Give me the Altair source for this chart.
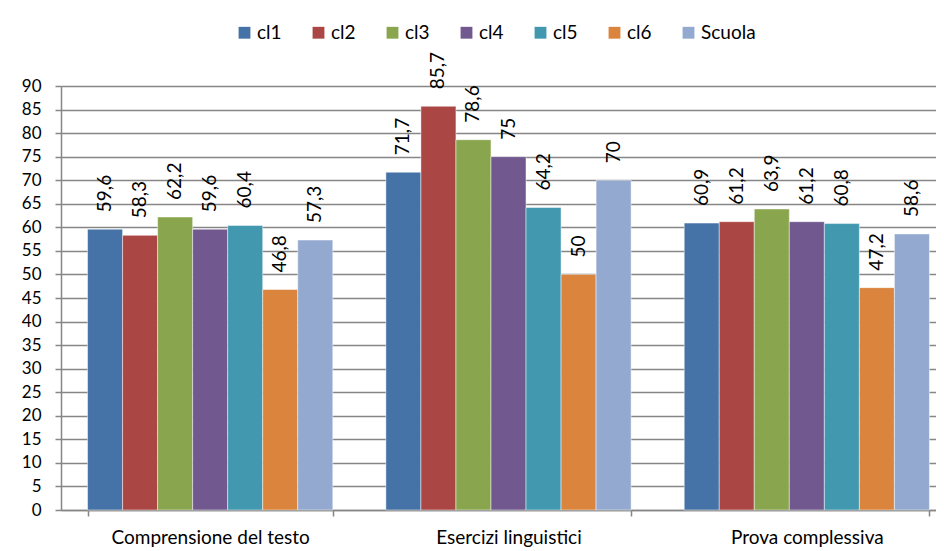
import altair as alt
import pandas as pd

categories = ["Comprensione del testo", "Esercizi linguistici", "Prova complessiva"]
series = ["cl1", "cl2", "cl3", "cl4", "cl5", "cl6", "Scuola"]
values = {
    "cl1": [59.6, 71.7, 60.9],
    "cl2": [58.3, 85.7, 61.2],
    "cl3": [62.2, 78.6, 63.9],
    "cl4": [59.6, 75, 61.2],
    "cl5": [60.4, 64.2, 60.8],
    "cl6": [46.8, 50, 47.2],
    "Scuola": [57.3, 70, 58.6],
}
colors = ["#4572A7", "#AA4643", "#89A54E", "#71588F", "#4198AF", "#DB843D", "#93A9CF"]
y_ticks = list(range(0, 91, 5))

rows = []
for s in series:
    for c, v in zip(categories, values[s]):
        rows.append({"cat": c, "series": s, "value": v, "label": str(v).replace(".", ",")})
df = pd.DataFrame(rows)

FONT = "Lato"
GRAY = "#868686"

x_enc = alt.X("cat:N", sort=categories, title=None,
              scale=alt.Scale(paddingInner=0.178, paddingOuter=0.089, range=[0, 895]),
              axis=alt.Axis(labelAngle=0, labelFontSize=19, labelFont=FONT, labelColor="#000",
                            labelLimit=0, tickBand="extent", tickSize=6, tickColor=GRAY,
                            domainColor=GRAY, domainWidth=1.5, tickWidth=1.5, labelPadding=12,
                            grid=False))
xo_enc = alt.XOffset("series:N", sort=series, scale=alt.Scale(paddingInner=0, paddingOuter=0))
y_enc = alt.Y("value:Q", title=None,
              scale=alt.Scale(domain=[0, 90], nice=False),
              axis=alt.Axis(values=y_ticks, tickCount=40, labelOverlap=False, labelFontSize=17,
                            labelFont=FONT, labelColor="#000", tickSize=6, tickColor=GRAY,
                            domainColor=GRAY, gridColor=GRAY, gridWidth=1.5, domainWidth=1.5,
                            tickWidth=1.5, labelPadding=14, minExtent=53))

bars = alt.Chart(df).mark_bar(stroke="white", strokeWidth=0.8, strokeOpacity=0.6).encode(
    x=x_enc, xOffset=xo_enc, y=y_enc,
    color=alt.Color("series:N", sort=series, scale=alt.Scale(domain=series, range=colors),
                    legend=alt.Legend(title=None, orient="none", direction="horizontal",
                                      legendX=174, legendY=-63, symbolType="square",
                                      symbolSize=140, symbolStrokeWidth=0, labelFontSize=19,
                                      labelFont=FONT, labelColor="#000", labelOffset=3,
                                      columnPadding=27, padding=0)),
)

labels = alt.Chart(df).mark_text(angle=270, align="left", baseline="middle", dx=17,
                                 fontSize=19, font=FONT, color="#000").encode(
    x=x_enc, xOffset=xo_enc, y=y_enc, text="label:N",
)

chart = alt.layer(bars, labels).properties(
    width=875, height=424,
    autosize=alt.AutoSizeParams(type="none"),
    padding={"left": 53, "top": 78, "right": 0, "bottom": 41},
).configure_view(stroke=None).configure_axis(gridOpacity=1)

chart.save("out.html", embed_options={"renderer": "svg", "actions": False})
